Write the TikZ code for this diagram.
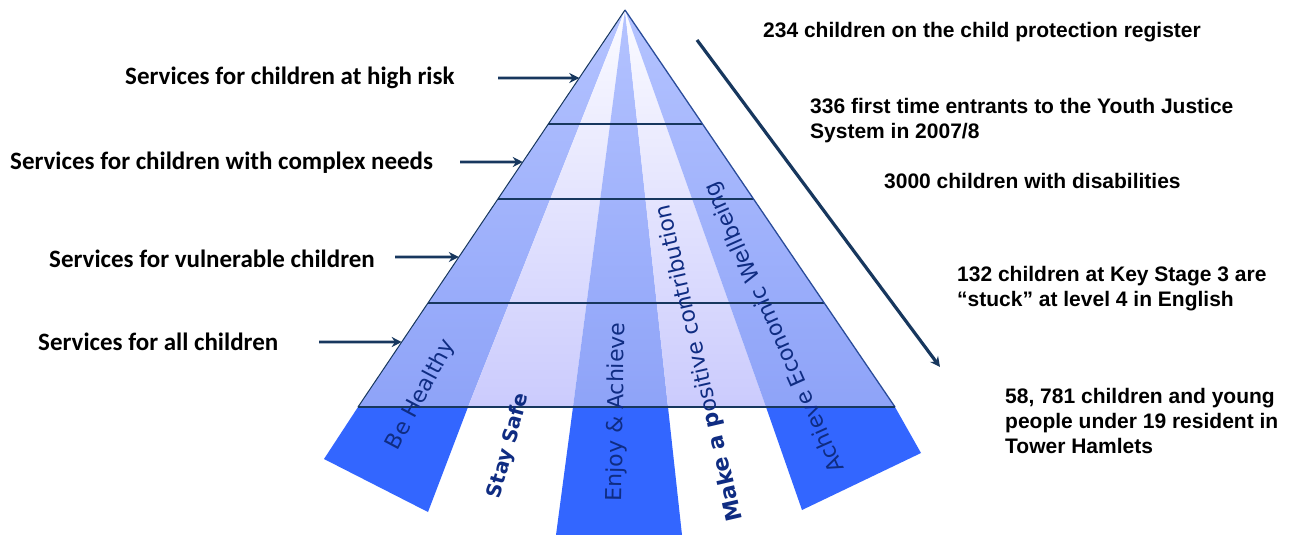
\documentclass[tikz,border=0pt]{standalone}
\usepackage{fontspec}
\setmainfont{Liberation Sans}
\newfontfamily\labfont{Carlito}
\newfontfamily\strfont{DejaVu Sans}
\usetikzlibrary{calc,arrows.meta}
\definecolor{navy}{HTML}{17375E}
\definecolor{edgeblue}{HTML}{2A4C9A}
\definecolor{fanblue}{HTML}{3366FF}
\definecolor{darktop}{HTML}{B4C3FF}
\definecolor{darkbot}{HTML}{8EA3F8}
\definecolor{lighttop}{HTML}{FBFBFF}
\definecolor{lightbot}{HTML}{CBCBFD}
\definecolor{strtext}{HTML}{0F2C82}
\begin{document}
\begin{tikzpicture}[x=1pt,y=-1pt,
  darkstripe/.style={top color=darktop,bottom color=darkbot,draw=none},
  lightstripe/.style={top color=lighttop,bottom color=lightbot,draw=none},
  fan/.style={fill=fanblue,draw=none},
  tier/.style={draw=navy,line width=1.3pt},
  svc/.style={font=\labfont\bfseries\fontsize{25}{30}\selectfont,anchor=west,inner sep=0},
  stat/.style={font=\bfseries\fontsize{21}{25}\selectfont,anchor=west,align=left,inner sep=0},
  strlab/.style={font=\strfont\fontsize{22}{26}\selectfont,text=strtext,inner sep=0},
  strbold/.style={font=\strfont\bfseries\fontsize{20}{24}\selectfont,text=strtext,inner sep=0},
  pointer/.style={draw=navy,line width=2.6pt,-{Stealth[length=10pt,width=10pt]}},
]
\fill[white] (0,0) rectangle (1299,535);
\useasboundingbox (0,0) rectangle (1299,535);

% pyramid geometry
\coordinate (apex) at (625,10);
\coordinate (bl) at (358,407);
\coordinate (br) at (895,407);
\coordinate (b1) at (468,407);
\coordinate (b2) at (573,407);
\coordinate (b3) at (668,407);
\coordinate (b4) at (766,407);

% fans below the base
\fill[fan] (bl) -- (324,459) -- (428,512) -- (b1) -- cycle;
\fill[fan] (b2) -- (556,535) -- (682,535) -- (b3) -- cycle;
\fill[fan] (b4) -- (802,510) -- (921,453) -- (br) -- cycle;

% stripes of the pyramid
\shade[darkstripe] (apex) -- (bl) -- (b1) -- cycle;
\shade[lightstripe] (apex) -- (b1) -- (b2) -- cycle;
\shade[darkstripe] (apex) -- (b2) -- (b3) -- cycle;
\shade[lightstripe] (apex) -- (b3) -- (b4) -- cycle;
\shade[darkstripe] (apex) -- (b4) -- (br) -- cycle;

% tiers
\foreach \t in {0.2872,0.4761,0.7380}
  \draw[tier] ($(apex)!\t!(bl)$) -- ($(apex)!\t!(br)$);
\draw[navy,line width=1pt] (bl) -- (apex);
\draw[edgeblue,line width=1.3pt] (apex) -- (br);
\draw[navy,line width=2pt] (bl) -- (br);

% stripe labels
\node[strlab,rotate=62] (l1) at (421,395) {Be Healthy};
\node[strbold,rotate=74.5] (l2) at (509,446) {Stay Safe};
\node[strlab,rotate=89] (l3) at (617,412) {Enjoy \& Achieve};
\node[strlab,rotate=103] (l4) at (700,363) {{\bfseries Make a p}ositive contribution};
\node[strlab,rotate=114] (l5) at (775,327) {Achieve Economic Wellbeing};

% service labels and arrows
\node[svc] (s1) at (125,78) {Services for children at high risk};
\node[svc] (s2) at (10,163) {Services for children with complex needs};
\node[svc] (s3) at (49,259) {Services for vulnerable children};
\node[svc] (s4) at (38,342) {Services for all children};
\coordinate (p1s) at (498,78);  \coordinate (p1e) at ($(apex)!0.1713!(bl)$);
\coordinate (p2s) at (460,162); \coordinate (p2e) at ($(apex)!0.3829!(bl)$);
\coordinate (p3s) at (395,257); \coordinate (p3e) at ($(apex)!0.6222!(bl)$);
\coordinate (p4s) at (319,342); \coordinate (p4e) at ($(apex)!0.8363!(bl)$);
\draw[pointer] (p1s) -- (p1e);
\draw[pointer] (p2s) -- (p2e);
\draw[pointer] (p3s) -- (p3e);
\draw[pointer] (p4s) -- (p4e);

% diagonal arrow
\coordinate (dstart) at (697,40);
\coordinate (dend) at (940,367);
\draw[pointer,line width=3.2pt] (dstart) -- (dend);

% statistics
\node[stat] (r1) at (763,32) {234 children on the child protection register};
\node[stat] (r2) at (810,120.5) {336 first time entrants to the Youth Justice\\System in 2007/8};
\node[stat] (r3) at (884,181.5) {3000 children with disabilities};
\node[stat] (r4) at (957,289) {132 children at Key Stage 3 are\\“stuck” at level 4 in English};
\node[stat] (r5) at (1005,421) {58, 781 children and young\\people under 19 resident in\\Tower Hamlets};
\end{tikzpicture}
\end{document}
